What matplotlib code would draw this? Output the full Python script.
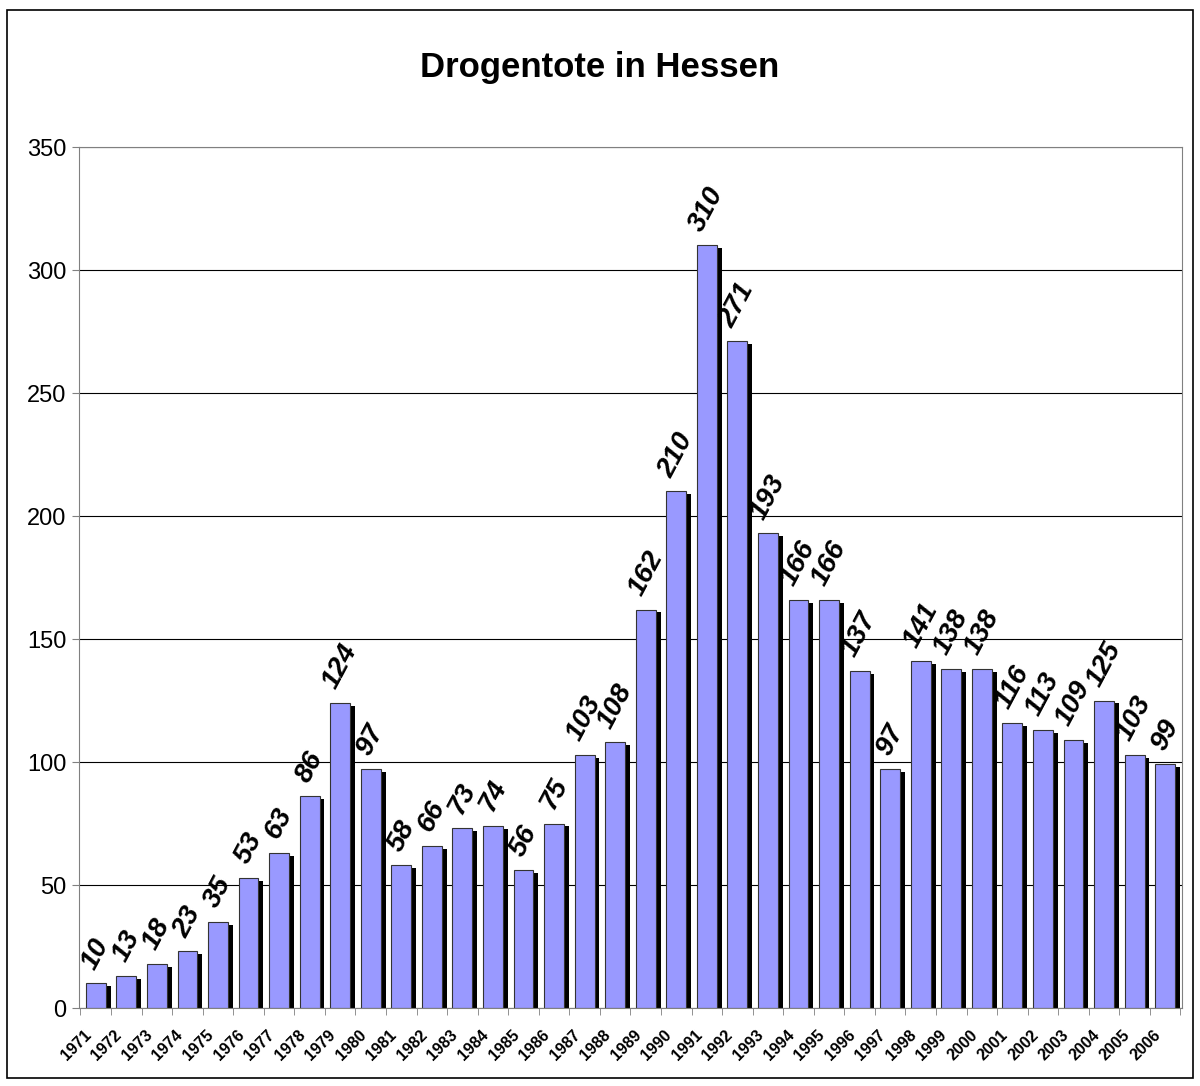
import matplotlib
matplotlib.use("Agg")
import matplotlib.pyplot as plt
import numpy as np

# data
years = [str(y) for y in range(1971, 2007)]
deaths = [10, 13, 18, 23, 35, 53, 63, 86, 124, 97, 58, 66, 73, 74, 56, 75,
          103, 108, 162, 210, 310, 271, 193, 166, 166, 137, 97, 141, 138, 138,
          116, 113, 109, 125, 103, 99]

plt.rcParams['font.family'] = ['Liberation Sans', 'DejaVu Sans']

fig = plt.figure(figsize=(12, 10.86), dpi=100)
ax = fig.add_axes([0.0658, 0.0718, 0.9192, 0.7928])

x = np.arange(len(years))
w = 0.65

# shadow first, then the bar itself
ax.bar(x + 0.16, np.array(deaths) - 1.2, width=w, color='black', zorder=2)
ax.bar(x, deaths, width=w, color='#9999ff', edgecolor='#333333', linewidth=0.8, zorder=3)

for xi, v in zip(x, deaths):
    ax.text(xi, v + 4, str(v), rotation=62, ha='center', va='bottom',
            fontsize=20, fontweight='bold', fontstyle='italic', zorder=4)

ax.set_xlim(-0.55, len(years) - 0.45)
ax.set_ylim(0, 350)
ax.set_yticks(range(0, 351, 50))
ax.yaxis.grid(True, color='black', linewidth=0.8, zorder=0)
ax.set_axisbelow(True)

# year labels sit a bit left of the bar centre, like the original
ax.set_xticks(x - 0.4)
ax.set_xticklabels(years, rotation=45, ha='right', rotation_mode='anchor',
                   fontsize=11.5, fontweight='bold')
ax.set_xticks(np.arange(-0.5, len(years), 1), minor=True)
ax.tick_params(axis='x', which='major', length=0, pad=14)
ax.tick_params(axis='x', which='minor', length=5, color='#808080')
ax.tick_params(axis='y', length=5, color='#808080', labelsize=17, pad=4)

for s in ax.spines.values():
    s.set_color('#808080')
    s.set_zorder(5)

fig.text(0.5, 0.938, 'Drogentote in Hessen', ha='center', va='center',
         fontsize=25, fontweight='bold')

# outer frame around the whole chart
fig.patches.append(plt.Rectangle((0.006, 0.007), 0.988, 0.984, transform=fig.transFigure,
                                 fill=False, edgecolor='black', linewidth=1.2))

fig.savefig('out.png', dpi=100)
